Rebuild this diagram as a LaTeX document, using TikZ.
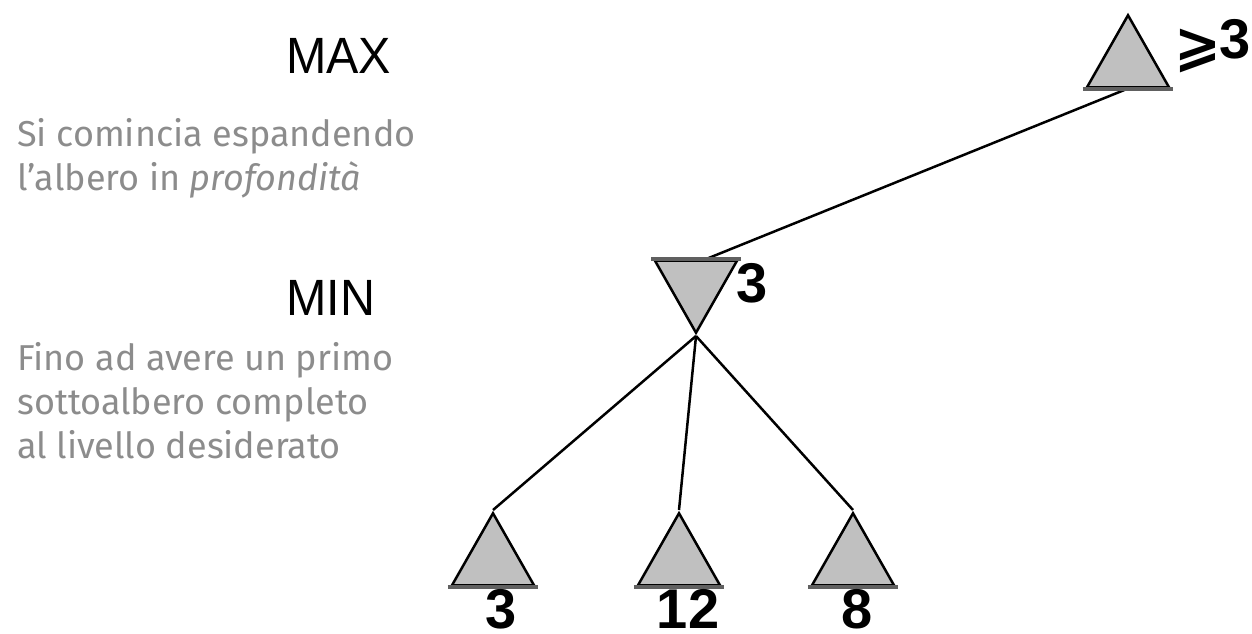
\documentclass[tikz,border=0pt]{standalone}
\usepackage{fontspec}
\setmainfont{Fira Sans}
\newfontfamily\pixfont[FakeStretch=0.95]{Liberation Sans}
\newfontfamily\numfont{Liberation Sans}
\newfontfamily\symfont{DejaVu Sans}
\usetikzlibrary{shapes.geometric}
\definecolor{trifill}{HTML}{C0C0C0}
\definecolor{tribase}{HTML}{606060}
\definecolor{notegray}{HTML}{8C8C8C}
\begin{document}
\begin{tikzpicture}[x=1pt,y=1pt,
  tri/.style={isosceles triangle, isosceles triangle stretches, shape border rotate=90,
    minimum width=82pt, minimum height=72pt, inner sep=0pt, draw=black, fill=trifill,
    line width=2.5pt, anchor=apex},
  basel/.style={tribase, line width=4pt, shorten <=-2pt, shorten >=-2pt},
  edge/.style={black, line width=2.5pt},
  level/.style={inner sep=0pt, anchor=base west, font=\pixfont\fontsize{51}{51}\selectfont},
  note/.style={inner sep=0pt, anchor=base west, align=left, text=notegray,
    font=\fontsize{36}{44}\selectfont},
  num/.style={inner sep=0pt, anchor=base, font=\numfont\bfseries\fontsize{56}{56}\selectfont}]
\useasboundingbox (0,0) rectangle (1252,-633);
\node[level] (maxlbl) at (286,-73) {MAX};
\node[level] (minlbl) at (286,-315) {MIN};
\node[note] (note1) at (17,-190) {Si comincia espandendo\\l’albero in \textit{profondità}};
\node[note] (note2) at (17,-458) {Fino ad avere un primo\\sottoalbero completo\\al livello desiderato};
\node[tri] (mx) at (1128,-12) {};
\node[tri, shape border rotate=270] (mn) at (696,-336) {};
\node[tri] (l1) at (493,-510) {};
\node[tri] (l2) at (679,-510) {};
\node[tri] (l3) at (853,-510) {};
\draw[edge] (mx.lower side) -- ([xshift=9pt]mn.lower side);
\draw[edge] (mn.apex) -- (l1.apex);
\draw[edge] (mn.apex) -- (l2.apex);
\draw[edge] (mn.apex) -- (l3.apex);
\draw[basel] (mx.left corner) -- (mx.right corner);
\draw[basel] (mn.left corner) -- (mn.right corner);
\draw[basel] (l1.left corner) -- (l1.right corner);
\draw[basel] (l2.left corner) -- (l2.right corner);
\draw[basel] (l3.left corner) -- (l3.right corner);
\node[num, anchor=base west] (maxv) at (1174,-58) {\raisebox{-6pt}{\symfont\bfseries\fontsize{56}{56}\selectfont ⩾}\kern-2pt 3};
\node[num, anchor=base west] (minv) at (736,-302) {3};
\node[num] (v1) at (501,-628) {3};
\node[num] (v2) at (688,-628) {12};
\node[num] (v3) at (857,-628) {8};
\end{tikzpicture}
\end{document}
